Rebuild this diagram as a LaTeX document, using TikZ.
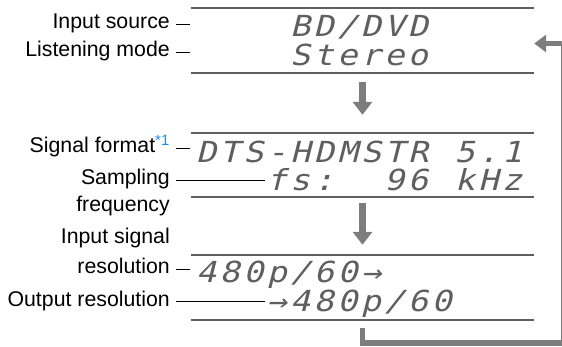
\documentclass[tikz,border=0pt]{standalone}
\usepackage{fontspec}
\setmainfont{Liberation Sans}
\newfontfamily\lcdfont[FakeSlant=0.25,FakeStretch=1.15,LetterSpace=12]{DejaVu Sans Mono}
\usetikzlibrary{arrows.meta, positioning}
\definecolor{notecol}{RGB}{30,140,235}
\definecolor{rulegray}{RGB}{95,95,95}
\definecolor{arrowgray}{RGB}{125,125,125}
\definecolor{lcdgray}{RGB}{95,95,95}

\begin{document}
\begin{tikzpicture}[
    x=1pt, y=-1pt,
    disp/.style={rectangle, minimum width=343pt, minimum height=64pt, inner sep=0pt},
    rule/.style={draw=rulegray, line width=1.8pt},
    lcd/.style={anchor=base west, inner sep=0pt, text=lcdgray, font=\lcdfont\fontsize{29}{29}\selectfont},
    lbl/.style={anchor=base east, inner sep=0pt, font=\fontsize{21.3}{25}\selectfont},
    tick/.style={draw=black, line width=1.2pt},
    down/.style={draw=arrowgray, line width=6.5pt, -{Triangle[width=19pt,length=13pt]}},
    loop/.style={draw=arrowgray, line width=5.5pt, -{Triangle[width=17pt,length=12pt]}}
]
\useasboundingbox (0,0) rectangle (562,347);

% the three displays
\node[disp] (dsrc) at (362.5,40.5) {};
\node[disp] (dsig) at (362.5,165) {};
\node[disp] (dres) at (362.5,287.5) {};
\foreach \d in {dsrc,dsig,dres} {
  \draw[rule] (\d.north west) -- (\d.north east);
  \draw[rule] (\d.south west) -- (\d.south east);
}

% display text, one column = 23.5
\node[lcd] (srcname) at ({196+23.5*4},37) {BD/DVD};
\node[lcd] (modename) at ({196+23.5*4},66) {Stereo};
\node[lcd] (fmtname) at (196,163) {DTS-HDMSTR};
\node[lcd] (fmtch) at ({196+23.5*11},163) {5.1};
\node[lcd] (fsword) at ({196+23.5*3},191) {fs:};
\node[lcd] (fsval) at ({196+23.5*8},191) {96};
\node[lcd] (fsunit) at ({196+23.5*11},191) {kHz};
\node[lcd] (inres) at (196,283) {480p/60→};
\node[lcd] (outarrow) at ({196+23.5*3},312) {→};
\node[lcd] (outres) at ({196+23.5*4},312) {480p/60};

% labels
\node[lbl] (srcl) at (170,29) {Input source};
\node[lbl] (model) at (170,57) {Listening mode};
\node[lbl] (fmtl) at (170,153) {Signal format\textsuperscript{\color{notecol}*1}};
\node[lbl] (fsl) at (170,185) {Sampling};
\node[lbl] (fsl2) at (170,212) {frequency};
\node[lbl] (inl) at (170,244) {Input signal};
\node[lbl] (inl2) at (170,274) {resolution};
\node[lbl] (outl) at (170,306) {Output resolution};

\draw[tick] ([xshift=6pt,yshift=2pt]srcl.mid east) -- ++(14,0);
\draw[tick] ([xshift=6pt,yshift=2pt]model.mid east) -- ++(14,0);
\draw[tick] ([xshift=6pt,yshift=2pt]fmtl.mid east) -- ++(14,0);
\draw[tick] ([xshift=6pt,yshift=2pt]fsl.mid east) -- ++(89,0);
\draw[tick] ([xshift=6pt,yshift=2pt]inl2.mid east) -- ++(14,0);
\draw[tick] ([xshift=6pt,yshift=2pt]outl.mid east) -- ++(89,0);

% flow arrows
\draw[down] ([yshift=-9pt]dsrc.south) -- ([yshift=18pt]dsig.north);
\draw[down] ([yshift=-6pt]dsig.south) -- ([yshift=10.5pt]dres.north);
\draw[loop] ([yshift=-8pt]dres.south) -- ++(0,15.5)
  -| ([xshift=30pt,yshift=-3pt]dsrc.east) -- ([yshift=-3pt]dsrc.east);

\end{tikzpicture}
\end{document}
